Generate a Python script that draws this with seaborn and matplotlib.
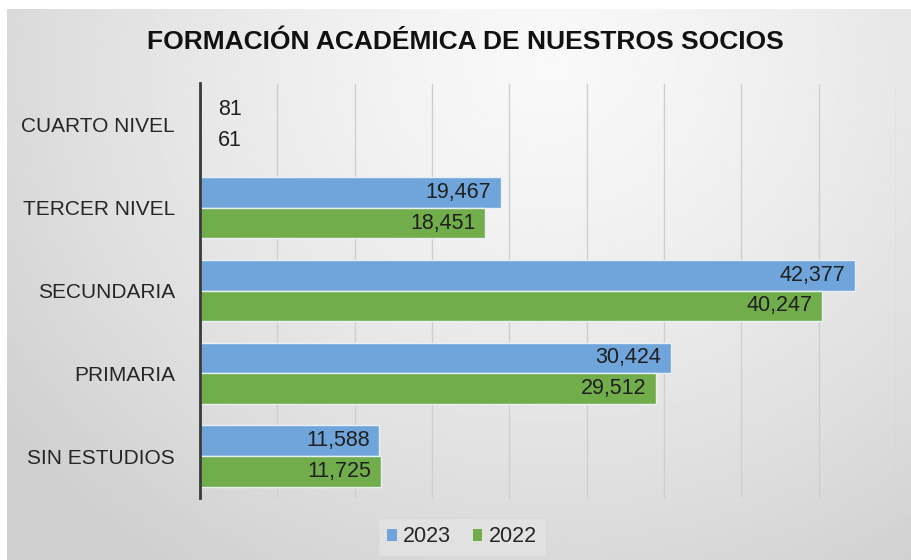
import numpy as np
import pandas as pd
import matplotlib
matplotlib.use("Agg")
import matplotlib.pyplot as plt
import seaborn as sns
from matplotlib.patches import Patch

categories = ["CUARTO NIVEL", "TERCER NIVEL", "SECUNDARIA", "PRIMARIA", "SIN ESTUDIOS"]
values_2023 = [81, 19467, 42377, 30424, 11588]
values_2022 = [61, 18451, 40247, 29512, 11725]
series = ["2023", "2022"]
title = "FORMACIÓN ACADÉMICA DE NUESTROS SOCIOS"

df = pd.DataFrame({
    "cat": categories * 2,
    "val": values_2023 + values_2022,
    "year": ["2023"] * len(categories) + ["2022"] * len(categories),
})

sns.set_theme(style="white")
plt.rcParams["font.family"] = ["Liberation Sans", "DejaVu Sans"]

W, H = 912, 560
fig = plt.figure(figsize=(W / 100, H / 100), dpi=100)
fig.patch.set_facecolor("white")

# background gradient
bg = fig.add_axes([7 / W, 0, 1 - 7 / W, 1 - 9 / H], zorder=-10)
yy, xx = np.mgrid[0:1:200j, 0:1:300j]
d = np.sqrt(((xx - 0.6) / 0.75) ** 2 + ((yy - 0.1) / 1.1) ** 2)
shade = 0.975 - 0.16 * np.clip(d, 0, 1) ** 1.3
bg.imshow(shade, cmap="gray", vmin=0, vmax=1, aspect="auto", extent=[0, 1, 1, 0])
bg.set_axis_off()

ax = fig.add_axes([200 / W, 1 - 497.5 / H, 696 / W, 414 / H])
ax.patch.set_alpha(0)
palette = {"2023": "#6fa5db", "2022": "#71ad4a"}
sns.barplot(data=df, x="val", y="cat", hue="year", order=categories,
            hue_order=series, palette=palette, orient="h", width=0.74,
            edgecolor="#e8f0f8", linewidth=1.0, saturation=1, ax=ax,
            legend=False, zorder=3)

ax.set_xlim(0, 45000)
ax.set_xticks(np.arange(0, 45001, 5000))
ax.set_xticklabels([])
ax.tick_params(axis="x", length=0)
ax.tick_params(axis="y", length=0, pad=18, labelsize=15, labelcolor="#262626")
ax.xaxis.grid(True, color="#cfcfcf", linewidth=1.0, zorder=0)
ax.set_axisbelow(True)
ax.set_xlabel("")
ax.set_ylabel("")
for s in ["top", "right", "bottom"]:
    ax.spines[s].set_visible(False)
ax.spines["left"].set_color("#3a3a3a")
ax.spines["left"].set_linewidth(2)
ax.spines["left"].set_zorder(5)

for cont in ax.containers:
    for bar in cont:
        w = bar.get_width()
        yc = bar.get_y() + bar.get_height() / 2
        txt = f"{int(w):,}"
        if w > 3000:
            ax.annotate(txt, (w, yc), xytext=(-7, 0), textcoords="offset points",
                        ha="right", va="center", fontsize=15.5, color="#1f1f1f", zorder=6)
        else:
            ax.annotate(txt, (w, yc), xytext=(12, 0), textcoords="offset points",
                        ha="left", va="center", fontsize=15.5, color="#1f1f1f", zorder=6)

fig.text(465 / W, 1 - 42 / H, title, ha="center", va="center",
         fontsize=19, fontweight="bold", color="#111111")

handles = [Patch(facecolor=palette[s], edgecolor="none", label=s) for s in series]
leg = fig.legend(handles=handles, loc="center", bbox_to_anchor=(462 / W, 1 - 537 / H),
                 ncol=2, frameon=True, fontsize=15.5, handlelength=0.45, handleheight=0.45,
                 handletextpad=0.3, columnspacing=1.0, borderpad=0.4)
leg.get_frame().set_facecolor("#e4e4e4")
leg.get_frame().set_edgecolor("#d8d8d8")
leg.get_frame().set_boxstyle("square", pad=0.0)

fig.savefig("out.png", dpi=100)
